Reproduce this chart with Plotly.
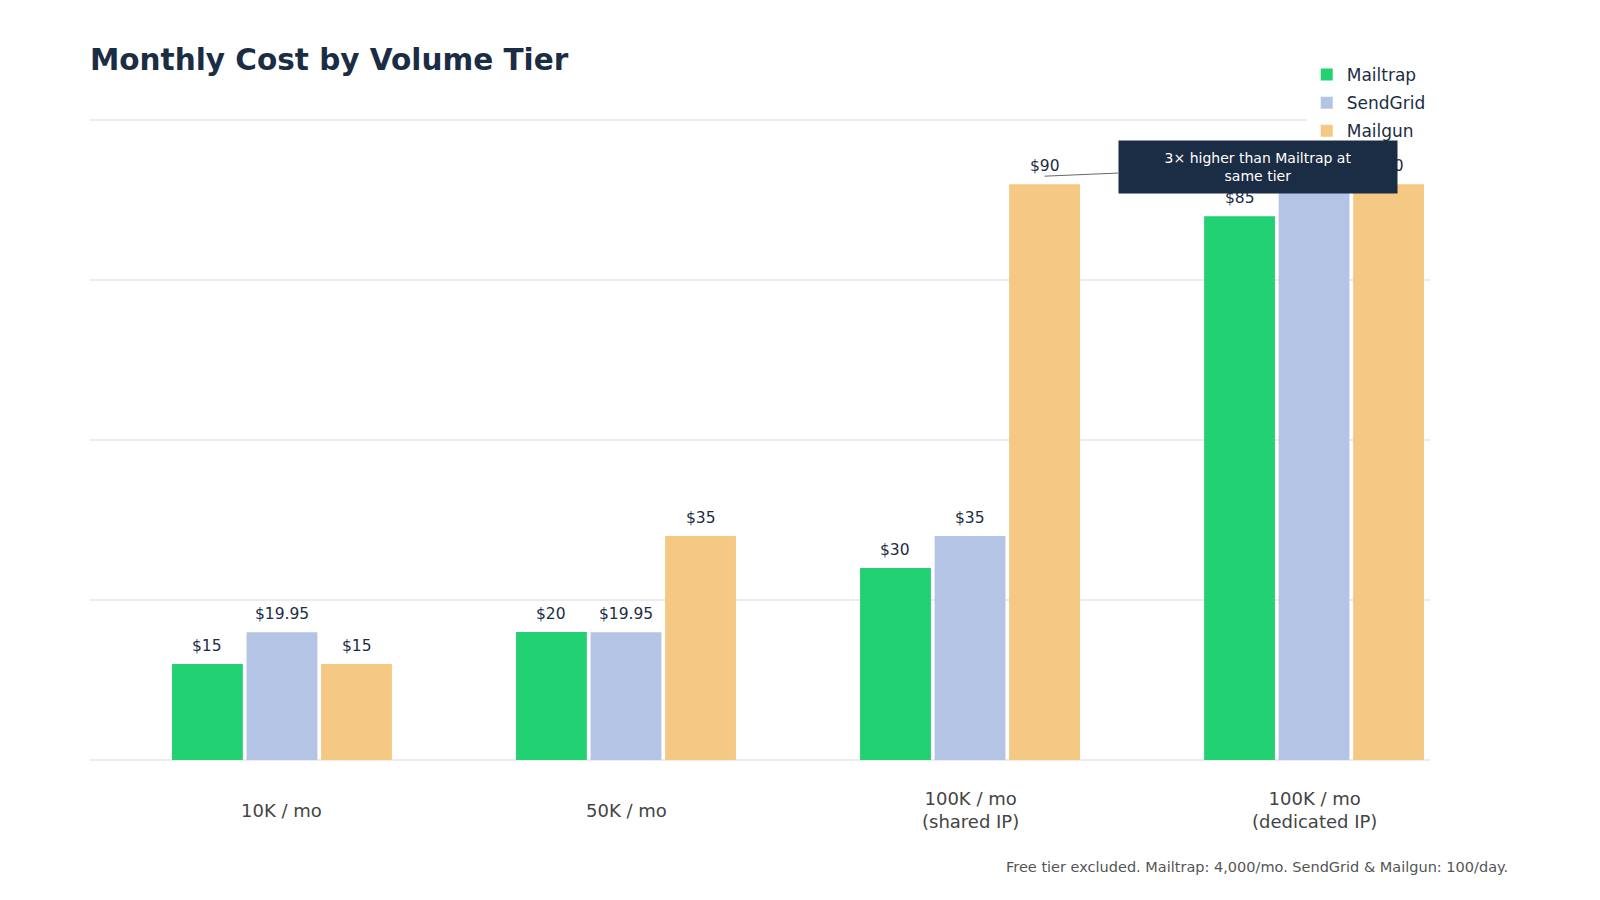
import plotly.graph_objects as go

# data
tiers = ["10K / mo", "50K / mo", "100K / mo<br>(shared IP)", "100K / mo<br>(dedicated IP)"]
mailtrap = [15, 20, 30, 85]
sendgrid = [19.95, 19.95, 35, 89.95]
mailgun = [15, 35, 90, 90]

navy = "#1b2d45"
bargap = 0.35
w = (1 - bargap) / 3  # width of one bar slot, in category units

series = [("Mailtrap", mailtrap, "#22d172"),
          ("SendGrid", sendgrid, "#b3c4e4"),
          ("Mailgun", mailgun, "#f5c884")]

fig = go.Figure()
for k, (name, vals, col) in enumerate(series):
    xs = list(range(len(tiers)))
    fig.add_trace(go.Bar(
        x=xs, y=vals, name=name, legendgroup=name,
        marker=dict(color=col, line=dict(width=0)),
    ))
    # value labels sitting a little above each bar
    for i, v in zip(xs, vals):
        fig.add_annotation(x=i + (k - 1) * w, y=v, text=f"${v:g}", showarrow=False,
                           yanchor="bottom", yshift=7,
                           font=dict(size=15.5, color=navy))

# category labels under each group
for i, t in enumerate(tiers):
    fig.add_annotation(x=i, y=0, text=t, showarrow=False, yanchor="middle",
                       yshift=-50, font=dict(size=18, color="#444444"))

# callout on Mailgun shared-IP tier
fig.add_annotation(
    x=2 + w, y=mailgun[2], yshift=8,
    text="3× higher than Mailtrap at<br>same tier",
    showarrow=True, arrowhead=0, arrowwidth=1, arrowcolor="#666666",
    ax=213, ay=-9, bgcolor=navy, borderpad=6, width=266, height=40,
    font=dict(size=14, color="white"),
)

fig.add_annotation(
    xref="paper", yref="paper", x=1.06, y=-0.1664, xanchor="right", yanchor="middle",
    text="Free tier excluded. Mailtrap: 4,000/mo. SendGrid & Mailgun: 100/day.",
    showarrow=False, font=dict(size=14.5, color="#555555"),
)

fig.update_layout(
    width=1600, height=900,
    font=dict(family="DejaVu Sans", color=navy),
    title=dict(text="<b>Monthly Cost by Volume Tier</b>", x=82 / 1600, xanchor="left",
               xref="container", y=1 - 52 / 900, yanchor="middle", yref="container",
               font=dict(size=29.5, color=navy)),
    barmode="group", bargap=bargap, bargroupgap=0.05,
    plot_bgcolor="white", paper_bgcolor="white",
    margin=dict(l=82, r=178, t=109, b=148, autoexpand=False),
    legend=dict(x=0.908, xanchor="left", y=1.0933, yanchor="top",
                bgcolor="white", font=dict(size=17, color=navy),
                traceorder="grouped", tracegroupgap=3),
    xaxis=dict(range=[-0.558, 3.337], showticklabels=False, showgrid=False,
               zeroline=False, ticks=""),
    yaxis=dict(range=[0, 100.5], dtick=25, showticklabels=False, gridcolor="#ececec",
               gridwidth=2, zeroline=True, zerolinecolor="#ececec", zerolinewidth=2),
    showlegend=True,
)

fig.write_html("out.html")
